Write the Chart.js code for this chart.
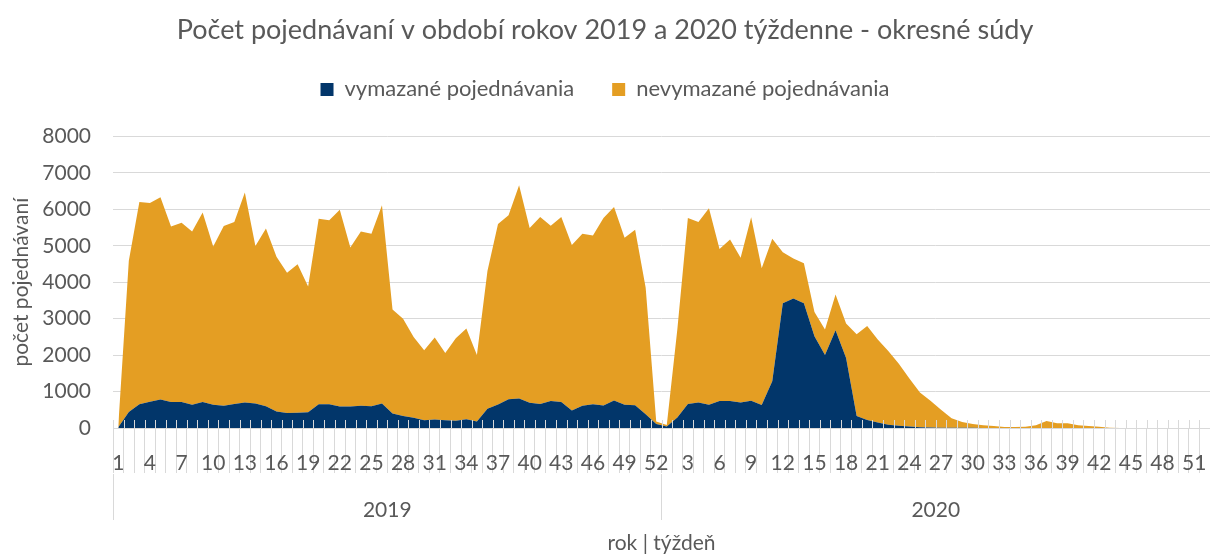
<!DOCTYPE html>
<html>
<head>
<meta charset="utf-8">
<script src="https://cdn.jsdelivr.net/npm/chart.js@4/dist/chart.umd.min.js"></script>
<style>
  html, body { margin: 0; padding: 0; background: #fff; }
  #wrap { width: 1210px; height: 556px; }
</style>
</head>
<body>
<div id="wrap"><canvas id="area-chart"></canvas></div>
<script>
const years = ["2019", "2020"];
const weeks = Array.from({ length: 52 }, (_, i) => String(i + 1));
const labels = weeks.concat(weeks);

const vymazane = [
  20, 440, 650, 720, 780, 710, 710, 640, 710, 640, 610, 660, 700, 670, 600, 450, 410, 420, 430, 650,
  650, 590, 590, 610, 600, 670, 400, 330, 280, 210, 230, 210, 200, 240, 175, 525, 645, 790, 810, 690,
  660, 740, 710, 480, 610, 650, 620, 755, 635, 625, 380, 110,
  40, 290, 660, 700, 640, 740, 740, 700, 745, 630, 1280, 3420, 3550, 3420, 2520, 2000, 2680, 1920,
  330, 220, 150, 90, 60, 40, 20, 15, 10, 5, 5, 5, 0, 0, 0, 0, 0, 0, 0, 0,
  0, 0, 0, 0, 0, 0, 0, 0, 0, 0, 0, 0
];
const nevymazane = [
  40, 4150, 5550, 5450, 5550, 4820, 4920, 4750, 5200, 4340, 4930, 4990, 5760, 4320, 4870, 4250, 3850, 4070, 3450, 5090,
  5050, 5400, 4360, 4780, 4730, 5440, 2850, 2670, 2220, 1920, 2250, 1850, 2260, 2490, 1825, 3785, 4955, 5050, 5850, 4800,
  5130, 4810, 5080, 4540, 4720, 4630, 5140, 5305, 4585, 4815, 3470, 65,
  40, 2410, 5100, 4950, 5390, 4170, 4430, 3970, 5035, 3750, 3910, 1400, 1100, 1100, 660, 700, 980, 950,
  2240, 2580, 2280, 2020, 1700, 1320, 955, 735, 490, 265, 160, 105, 75, 55, 30, 30, 35, 75, 190, 130,
  130, 75, 55, 35, 10, 0, 0, 0, 0, 0, 0, 0, 0, 0
];

const textColor = "#595959";
const gridColor = "#d9d9d9";
const font = "Lato";

// extra room between legend and plot
const legendSpace = {
  id: "legendSpace",
  beforeInit(chart) {
    const fit = chart.legend.fit;
    chart.legend.fit = function () {
      fit.call(this);
      this.height += 26;
    };
  }
};

// small tick marks crossing the axis line, as in the original
const axisTicks = {
  id: "axisTicks",
  afterDatasetsDraw(chart) {
    const x = chart.scales.x;
    const ctx = chart.ctx;
    const y0 = chart.chartArea.bottom;
    const half = (x.getPixelForValue(1) - x.getPixelForValue(0)) / 2;
    ctx.save();
    ctx.strokeStyle = gridColor;
    ctx.lineWidth = 1;
    ctx.beginPath();
    for (let i = 0; i <= labels.length; i++) {
      const px = Math.round(x.getPixelForValue(i) - half) + 0.5;
      ctx.moveTo(px, y0 - 8);
      ctx.lineTo(px, y0);
    }
    ctx.stroke();
    ctx.restore();
  }
};

new Chart(document.getElementById("area-chart"), {
  type: "line",
  data: {
    labels: labels,
    datasets: [
      {
        label: "vymazané pojednávania",
        data: vymazane,
        backgroundColor: "#02366a",
        borderWidth: 0,
        pointRadius: 0,
        fill: "origin",
      },
      {
        label: "nevymazané pojednávania",
        data: nevymazane,
        backgroundColor: "#e49e23",
        borderWidth: 0,
        pointRadius: 0,
        fill: "-1",
      },
    ],
  },
  plugins: [legendSpace, axisTicks],
  options: {
    responsive: true,
    maintainAspectRatio: false,
    animation: false,
    layout: { padding: { left: 0, right: 0, top: 0, bottom: 0 } },
    plugins: {
      title: {
        display: true,
        text: "Počet pojednávaní v období rokov 2019 a 2020 týždenne - okresné súdy",
        color: textColor,
        font: { family: font, size: 27, weight: "normal" },
        padding: { top: 14, bottom: -6 },
      },
      legend: {
        position: "top",
        labels: {
          color: textColor,
          font: { family: font, size: 22 },
          boxWidth: 13,
          boxHeight: 13,
          padding: 38,
        },
      },
      tooltip: { enabled: false },
    },
    scales: {
      x: {
        type: "category",
        offset: true,
        grid: { offset: true, drawOnChartArea: false, color: gridColor, tickLength: 45 },
        border: { color: gridColor },
        ticks: {
          autoSkip: false,
          maxRotation: 0,
          color: textColor,
          font: { family: font, size: 21 },
          padding: -22,
          callback: (v, i) => (i % 3 === 0 ? labels[i] : ""),
        },
        afterFit: (s) => { s.height = 46; },
      },
      x2: {
        type: "category",
        labels: years,
        position: "bottom",
        offset: true,
        grid: { offset: true, drawOnChartArea: false, color: gridColor, tickLength: 46 },
        border: { display: false },
        ticks: {
          color: textColor,
          font: { family: font, size: 21 },
          padding: -22,
        },
        title: {
          display: true,
          text: "rok | týždeň",
          color: textColor,
          font: { family: font, size: 21 },
          padding: { top: 14, bottom: 0 },
        },
        afterFit: (s) => { s.height = 82; },
      },
      y: {
        stacked: true,
        min: 0,
        max: 8000,
        ticks: {
          stepSize: 1000,
          color: textColor,
          font: { family: font, size: 21 },
          padding: 22,
          callback: (v) => String(v),
        },
        grid: { color: gridColor, drawTicks: false },
        border: { display: false },
        title: {
          display: true,
          text: "počet pojednávaní",
          color: textColor,
          font: { family: font, size: 21 },
          padding: { top: 9, bottom: 0 },
        },
        afterFit: (s) => { s.width = 113; },
      },
    },
  },
});
</script>
</body>
</html>
